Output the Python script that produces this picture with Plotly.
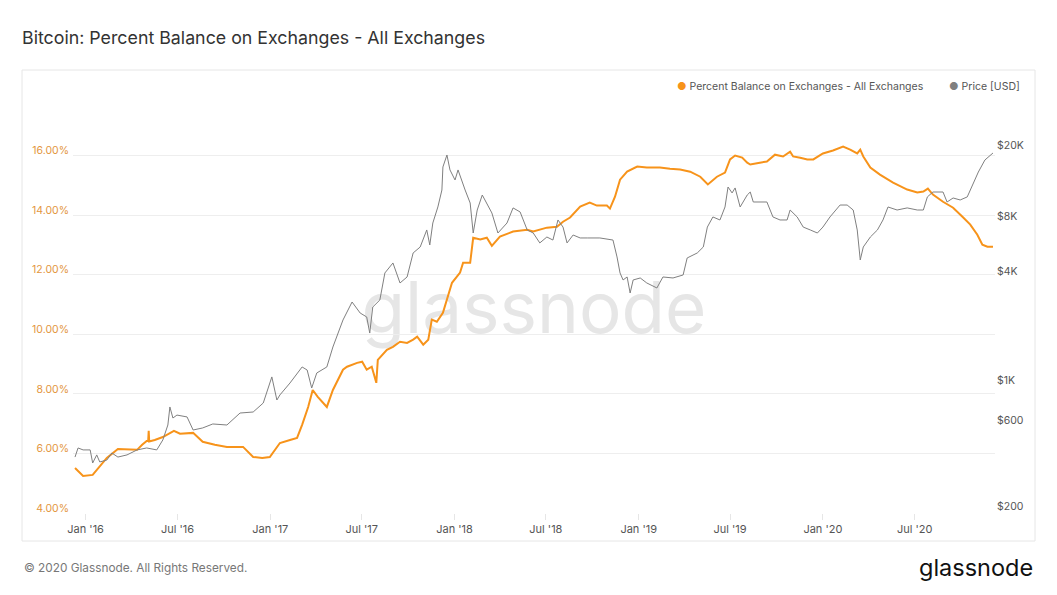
import plotly.graph_objects as go

# ---------------- data ----------------
bal_dates = [
    "2015-12-11", "2015-12-27", "2016-01-15", "2016-02-04", "2016-02-12", "2016-03-05",
    "2016-04-12", "2016-04-22", "2016-05-01", "2016-05-04", "2016-05-05", "2016-05-06",
    "2016-05-17", "2016-06-02", "2016-06-16", "2016-06-24", "2016-07-06", "2016-08-01",
    "2016-08-20", "2016-09-13", "2016-10-07", "2016-11-08", "2016-11-28", "2016-12-16", "2016-12-31",
    "2017-01-20", "2017-02-09", "2017-02-23", "2017-03-05", "2017-03-17", "2017-03-26",
    "2017-04-05", "2017-04-23", "2017-05-05", "2017-05-25", "2017-06-02", "2017-06-22",
    "2017-07-02", "2017-07-11", "2017-07-21", "2017-07-30", "2017-08-02", "2017-08-20",
    "2017-09-01", "2017-09-15", "2017-09-29", "2017-10-11", "2017-10-19", "2017-10-31",
    "2017-11-10", "2017-11-17", "2017-11-27", "2017-12-09", "2017-12-17", "2017-12-27",
    "2018-01-12", "2018-01-18", "2018-02-01", "2018-02-07", "2018-02-21", "2018-03-06",
    "2018-03-16", "2018-04-01", "2018-04-27", "2018-05-25", "2018-06-06", "2018-07-03",
    "2018-07-23", "2018-08-04", "2018-08-18", "2018-09-07", "2018-09-26", "2018-10-10",
    "2018-10-30", "2018-11-05", "2018-11-15", "2018-11-25", "2018-12-09", "2018-12-29",
    "2019-01-17", "2019-02-12", "2019-03-04", "2019-03-24", "2019-04-13", "2019-05-03",
    "2019-05-18", "2019-06-05", "2019-06-21", "2019-07-01", "2019-07-11", "2019-07-25",
    "2019-08-04", "2019-08-10", "2019-08-29", "2019-09-12", "2019-09-28", "2019-10-14",
    "2019-10-28", "2019-11-03", "2019-11-17", "2019-12-01", "2019-12-13",
    "2020-01-01", "2020-01-21", "2020-02-10", "2020-02-24", "2020-03-09", "2020-03-15",
    "2020-03-21", "2020-04-04", "2020-04-23", "2020-05-19", "2020-06-16", "2020-07-06",
    "2020-07-18", "2020-07-27", "2020-08-06", "2020-08-26", "2020-09-15", "2020-10-05",
    "2020-10-19", "2020-11-02", "2020-11-12", "2020-11-22", "2020-12-03",
]
bal_pct = [
    5.51, 5.24, 5.28, 5.71, 5.85, 6.15,
    6.12, 6.29, 6.42, 6.42, 6.76, 6.40,
    6.45, 6.55, 6.69, 6.76, 6.66, 6.69,
    6.39, 6.29, 6.22, 6.22, 5.88, 5.85, 5.88,
    6.35, 6.45, 6.52, 6.96, 7.56, 8.13,
    7.90, 7.56, 8.13, 8.81, 8.91, 9.04,
    9.08, 8.81, 8.91, 8.37, 9.14, 9.48,
    9.58, 9.75, 9.71, 9.82, 9.92, 9.65,
    9.82, 10.49, 10.42, 10.72, 11.16, 11.73,
    12.07, 12.40, 12.40, 13.24, 13.18, 13.24,
    12.97, 13.28, 13.45, 13.51, 13.45, 13.58,
    13.61, 13.78, 13.92, 14.29, 14.42, 14.32,
    14.32, 14.22, 14.62, 15.19, 15.46, 15.63,
    15.60, 15.60, 15.56, 15.53, 15.46, 15.29,
    15.03, 15.29, 15.43, 15.87, 16.00, 15.93,
    15.76, 15.70, 15.76, 15.80, 16.03, 15.97,
    16.13, 15.97, 15.93, 15.87, 15.87,
    16.07, 16.17, 16.30, 16.20, 16.07, 16.20,
    15.97, 15.60, 15.36, 15.09, 14.86, 14.76,
    14.79, 14.89, 14.69, 14.45, 14.25, 13.92,
    13.68, 13.34, 13.01, 12.94, 12.94,
]

price_dates = [
    "2015-12-11", "2015-12-17", "2015-12-27", "2016-01-10", "2016-01-15", "2016-01-23",
    "2016-01-29", "2016-02-12", "2016-02-22", "2016-03-05", "2016-03-23", "2016-04-12",
    "2016-05-01", "2016-05-21", "2016-06-02", "2016-06-12", "2016-06-16", "2016-06-22",
    "2016-06-30", "2016-07-20", "2016-08-01", "2016-08-20", "2016-09-09", "2016-10-07",
    "2016-11-02", "2016-11-28", "2016-12-18",
    "2017-01-04", "2017-01-14", "2017-01-20", "2017-02-09", "2017-03-05", "2017-03-15",
    "2017-03-24", "2017-04-03", "2017-04-23", "2017-05-05", "2017-05-25", "2017-06-12",
    "2017-06-28", "2017-07-11", "2017-07-17", "2017-07-23", "2017-08-06", "2017-08-16",
    "2017-09-01", "2017-09-15", "2017-09-29", "2017-10-11", "2017-10-25", "2017-11-07",
    "2017-11-13", "2017-11-19", "2017-11-29", "2017-12-07", "2017-12-09", "2017-12-17",
    "2017-12-23",
    "2018-01-02", "2018-01-08", "2018-01-22", "2018-02-01", "2018-02-07", "2018-02-15",
    "2018-02-25", "2018-03-06", "2018-03-16", "2018-03-28", "2018-04-15", "2018-04-27",
    "2018-05-11", "2018-05-25", "2018-06-06", "2018-06-19", "2018-07-03", "2018-07-15",
    "2018-07-25", "2018-08-04", "2018-08-12", "2018-08-24", "2018-09-07", "2018-09-21",
    "2018-10-16", "2018-11-11", "2018-11-19", "2018-11-25", "2018-12-01", "2018-12-09",
    "2018-12-15", "2018-12-21",
    "2019-01-04", "2019-01-17", "2019-02-06", "2019-02-18", "2019-03-10", "2019-03-30",
    "2019-04-07", "2019-04-27", "2019-05-09", "2019-05-17", "2019-05-28", "2019-06-11",
    "2019-06-21", "2019-06-27", "2019-07-05", "2019-07-11", "2019-07-21", "2019-08-04",
    "2019-08-10", "2019-08-16", "2019-08-29", "2019-09-12", "2019-09-24", "2019-10-08",
    "2019-10-22", "2019-10-28", "2019-11-11", "2019-11-23", "2019-12-07", "2019-12-21",
    "2020-01-01", "2020-01-15", "2020-02-04", "2020-02-18", "2020-03-01", "2020-03-09",
    "2020-03-15", "2020-03-21", "2020-04-04", "2020-04-18", "2020-04-29", "2020-05-09",
    "2020-05-27", "2020-06-16", "2020-07-06", "2020-07-18", "2020-07-26", "2020-08-06",
    "2020-08-26", "2020-09-03", "2020-09-15", "2020-09-29", "2020-10-13", "2020-10-23",
    "2020-11-04", "2020-11-17", "2020-11-27", "2020-12-03",
]
price_usd = [
    398, 447, 436, 436, 369, 409,
    374, 383, 419, 398, 409, 436,
    447, 436, 495, 599, 754, 655,
    680, 664, 562, 577, 607, 599,
    698, 707, 793,
    1106, 824, 879, 1024, 1256, 1208,
    960, 1163, 1256, 1620, 2287, 2876,
    2500, 2376, 1936, 2698, 2950, 4166,
    4732, 3666, 3958, 5376, 5802, 7210,
    5953, 7880, 9665, 12000, 16100, 18760,
    15500,
    13640, 15500, 12000, 10170, 6935, 9300,
    11260, 10170, 8955, 6935, 7880, 9550,
    9070, 7210, 6935, 6110, 6590, 6340,
    8190, 7480, 6110, 6760, 6510, 6510,
    6510, 6340, 5108, 4166, 3810, 3958,
    3226, 3810,
    3908, 3666, 3440, 3958, 3908, 4060,
    5044, 5376, 5802, 7480, 8510, 8190,
    9665, 12470, 11560, 12320, 9665, 11260,
    11700, 10300, 10300, 10300, 8510, 8190,
    8190, 9300, 8510, 7480, 7210, 6935,
    7480, 8510, 9910, 9910, 9300, 7210,
    4916, 5802, 6590, 7210, 8190, 9665,
    9300, 9550, 9300, 9300, 10990, 11700,
    11700, 10300, 10840, 10570, 10990, 12800,
    15100, 17600, 18760, 19240,
]

x_tick_dates = ["2016-01-01", "2016-07-01", "2017-01-01", "2017-07-01", "2018-01-01",
                "2018-07-01", "2019-01-01", "2019-07-01", "2020-01-01", "2020-07-01"]
x_tick_labels = ["Jan '16", "Jul '16", "Jan '17", "Jul '17", "Jan '18",
                 "Jul '18", "Jan '19", "Jul '19", "Jan '20", "Jul '20"]
pct_ticks = [4, 6, 8, 10, 12, 14, 16, 18]
pct_labels = ["4.00%", "6.00%", "8.00%", "10.00%", "12.00%", "14.00%", "16.00%", ""]
price_ticks = [200, 600, 1000, 4000, 8000, 20000]
price_labels = ["$200", "$600", "$1K", "$4K", "$8K", "$20K"]

series_names = ["Percent Balance on Exchanges - All Exchanges", "Price [USD]"]
ORANGE = "#f7931a"
GREY = "#808080"

# ---------------- layout geometry (pixels) ----------------
W, H = 1057, 595
L, R, T, B = 73, 995, 96, 513
PW, PH = R - L, B - T


def px(x):
    return (x - L) / PW


def py(y):
    return (B - y) / PH


FONT = "Inter, Roboto, sans-serif"

fig = go.Figure()
fig.add_trace(go.Scatter(
    x=bal_dates, y=bal_pct, mode="lines", name=series_names[0],
    line=dict(color=ORANGE, width=2), yaxis="y", showlegend=False,
))
fig.add_trace(go.Scatter(
    x=price_dates, y=price_usd, mode="lines", name=series_names[1],
    line=dict(color=GREY, width=1), yaxis="y2", showlegend=False,
))

fig.update_layout(
    width=W, height=H,
    margin=dict(l=L, r=W - R, t=T, b=H - B, pad=0),
    paper_bgcolor="white", plot_bgcolor="white",
    hovermode=False,
    font=dict(family=FONT, color="#555555", size=11),
    title=dict(
        text="Bitcoin: Percent Balance on Exchanges - All Exchanges",
        x=22 / W, xanchor="left", xref="container",
        y=1 - 38 / H, yanchor="middle", yref="container",
        font=dict(family=FONT, size=17.8, color="#333333"),
    ),
    xaxis=dict(
        type="date", range=["2015-12-07", "2020-12-07"],
        tickvals=x_tick_dates, ticktext=x_tick_labels,
        ticks="outside", ticklen=6, tickcolor="#e6e6e6", tickwidth=1,
        showgrid=False, zeroline=False, showline=False,
        tickfont=dict(family=FONT, size=11, color="#555555"),
    ),
    yaxis=dict(
        range=[4, 18], tickvals=pct_ticks, ticktext=pct_labels,
        showgrid=True, gridcolor="#eeeeee", gridwidth=1,
        zeroline=False, showline=False, ticks="",
        ticklabelstandoff=3, ticklabelshift=-5,
        tickfont=dict(family=FONT, size=10.5, color="#e3963e"),
    ),
    yaxis2=dict(
        overlaying="y", side="right", type="log",
        range=[2.290, 4.600], tickvals=price_ticks, ticktext=price_labels,
        showgrid=False, zeroline=False, showline=False, ticks="",
        ticklabelstandoff=1, ticklabelshift=-5,
        tickfont=dict(family=FONT, size=10.5, color="#555555"),
    ),
)

# card border
fig.add_shape(type="rect", xref="paper", yref="paper",
              x0=px(22), x1=px(1035), y0=py(541), y1=py(70),
              line=dict(color="#e6e6e6", width=1), fillcolor="rgba(0,0,0,0)",
              layer="below")

# watermark behind the lines
fig.add_shape(type="rect", xref="paper", yref="paper",
              x0=0, x1=1, y0=0, y1=1,
              line=dict(width=0), fillcolor="rgba(0,0,0,0)", layer="below",
              label=dict(text="glassnode", textposition="middle center",
                         font=dict(family=FONT, size=71, color="#e6e6e6")))

# legend (dot + text)
fig.add_annotation(xref="paper", yref="paper", x=px(675), y=py(87),
                   xanchor="left", yanchor="middle", showarrow=False,
                   text=f"<span style='color:{ORANGE}'>●</span> {series_names[0]}",
                   font=dict(family=FONT, size=10.5, color="#555555"))
fig.add_annotation(xref="paper", yref="paper", x=px(947), y=py(87),
                   xanchor="left", yanchor="middle", showarrow=False,
                   text=f"<span style='color:{GREY}'>●</span> {series_names[1]}",
                   font=dict(family=FONT, size=10.5, color="#555555"))

# footer
fig.add_annotation(xref="paper", yref="paper", x=px(22), y=py(568),
                   xanchor="left", yanchor="middle", showarrow=False,
                   text="© 2020 Glassnode. All Rights Reserved.",
                   font=dict(family=FONT, size=11.8, color="#777777"))
fig.add_annotation(xref="paper", yref="paper", x=px(1035), y=py(567),
                   xanchor="right", yanchor="middle", showarrow=False,
                   text="glassnode",
                   font=dict(family=FONT, size=23.5, color="#111111"))

fig.write_html("out.html")
